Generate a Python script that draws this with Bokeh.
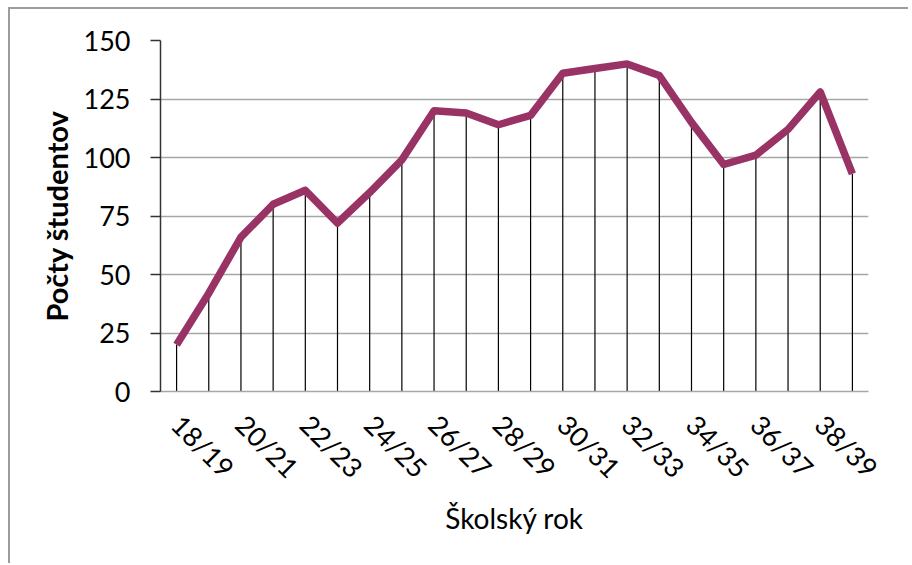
import math
from bokeh.plotting import figure
from bokeh.models import Range1d, FixedTicker
from bokeh.embed import file_html
from bokeh.resources import INLINE

years = ["18/19", "19/20", "20/21", "21/22", "22/23", "23/24", "24/25", "25/26",
         "26/27", "27/28", "28/29", "29/30", "30/31", "31/32", "32/33", "33/34",
         "34/35", "35/36", "36/37", "37/38", "38/39", "39/40"]
students = [20, 42, 66, 80, 86, 72, 85, 99, 120, 119, 114, 118,
            136, 138, 140, 135, 115, 97, 101, 112, 128, 93]
y_ticks = [0, 25, 50, 75, 100, 125, 150]
x_title = "Školský rok"
y_title = "Počty študentov"

x_idx = list(range(len(years)))
zeros = [0] * len(years)

p = figure(width=900, height=556,
           x_range=Range1d(-0.5, len(years) - 0.5),
           y_range=Range1d(y_ticks[0], y_ticks[-1]),
           output_backend="svg", toolbar_location=None,
           min_border_left=150, min_border_top=31,
           min_border_right=42, min_border_bottom=174)
p.styles = {"border-top": "2px solid #9c9c9c", "border-left": "2px solid #9c9c9c",
            "margin-top": "7px", "margin-left": "8px"}
p.outline_line_color = None
p.background_fill_color = "white"
p.border_fill_color = "white"

p.xgrid.grid_line_color = None
p.ygrid.grid_line_color = "#a6a6a6"
p.ygrid.grid_line_width = 1.5
p.ygrid.ticker = FixedTicker(ticks=y_ticks)

p.segment(x0=x_idx, y0=zeros, x1=x_idx, y1=students, line_color="black", line_width=1.2)
p.line(x_idx, students, line_color="#993366", line_width=7.5, line_join="round")

font = "Lato"
ax = p.yaxis[0]
ax.ticker = FixedTicker(ticks=y_ticks)
ax.major_label_text_font = font
ax.major_label_text_font_size = "27px"
ax.major_label_text_color = "black"
ax.major_tick_out = 10
ax.major_tick_in = 0
ax.minor_tick_out = 0
ax.minor_tick_in = 0
ax.major_label_standoff = 20
ax.axis_line_color = "#333333"
ax.axis_line_width = 1.5
ax.major_tick_line_color = "#333333"
ax.major_tick_line_width = 1.5
ax.axis_label = y_title
ax.axis_label_text_font = font
ax.axis_label_text_font_style = "bold"
ax.axis_label_text_font_size = "29px"
ax.axis_label_text_color = "black"
ax.axis_label_standoff = 7

xa = p.xaxis[0]
xa.ticker = FixedTicker(ticks=x_idx[::2])
xa.major_label_overrides = {i: years[i] for i in x_idx}
xa.major_label_orientation = -math.pi / 4
xa.major_label_text_font = font
xa.major_label_text_font_size = "27px"
xa.major_label_text_color = "black"
xa.major_tick_out = 0
xa.major_tick_in = 0
xa.minor_tick_out = 0
xa.minor_tick_in = 0
xa.major_label_standoff = 28
xa.axis_line_color = "#a6a6a6"
xa.axis_line_width = 1.5
xa.axis_label = x_title
xa.axis_label_text_font = font
xa.axis_label_text_font_style = "normal"
xa.axis_label_text_font_size = "28px"
xa.axis_label_text_color = "black"
xa.axis_label_standoff = 2

open("out.html", "w").write(file_html(p, INLINE))
